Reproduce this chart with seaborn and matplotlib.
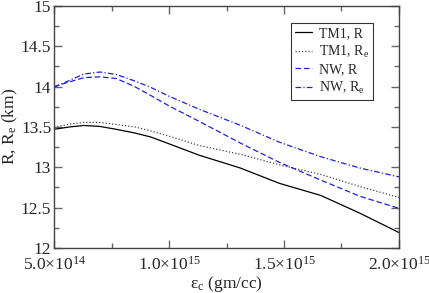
import numpy as np
import pandas as pd
import matplotlib
matplotlib.use("Agg")
import matplotlib.pyplot as plt
import seaborn as sns
from matplotlib.ticker import MultipleLocator, FixedLocator, FuncFormatter

# central energy density (gm/cc)
eps_c = [5.0e14, 5.7e14, 6.3e14, 7.0e14, 7.7e14, 8.5e14, 9.2e14, 1.0e15,
         1.13e15, 1.31e15, 1.48e15, 1.66e15, 1.83e15, 2.0e15]

tm1_r = [13.47, 13.50, 13.517, 13.505, 13.47, 13.425, 13.375, 13.29,
         13.15, 12.99, 12.80, 12.65, 12.43, 12.19]
tm1_re = [13.495, 13.535, 13.555, 13.555, 13.53, 13.50, 13.45, 13.385,
          13.27, 13.16, 13.03, 12.91, 12.76, 12.625]
nw_r = [14.00, 14.06, 14.11, 14.12, 14.10, 14.00, 13.89, 13.76,
        13.57, 13.30, 13.06, 12.84, 12.64, 12.49]
nw_re = [13.99, 14.08, 14.155, 14.18, 14.15, 14.07, 13.99, 13.88,
         13.72, 13.52, 13.31, 13.13, 12.99, 12.88]

series = {
    "TM1, R": tm1_r,
    r"TM1, R$_\mathrm{e}$": tm1_re,
    "NW, R": nw_r,
    r"NW, R$_\mathrm{e}$": nw_re,
}
names = list(series)

df = pd.concat(
    [pd.DataFrame({"eps": eps_c, "R": v, "curve": k}) for k, v in series.items()],
    ignore_index=True,
)

sns.set_style("ticks")
plt.rcParams["font.family"] = ["Liberation Serif", "DejaVu Serif"]
plt.rcParams["mathtext.fontset"] = "custom"
plt.rcParams["mathtext.rm"] = "Liberation Serif"
plt.rcParams["mathtext.it"] = "Liberation Serif:italic"

fig = plt.figure(figsize=(4.29, 2.93), dpi=100)
ax = fig.add_axes([0.126, 0.154, 0.804, 0.826])

palette = dict(zip(names, ["black", "#444444", "#2020e0", "#2020e0"]))
dashes = dict(zip(names, ["", (1, 1.6), (4.5, 2.2), (4.5, 1.8, 1, 1.8)]))

sns.lineplot(data=df, x="eps", y="R", hue="curve", style="curve",
             palette=palette, dashes=dashes, linewidth=0.9, ax=ax)

ax.set_xlim(5e14, 2e15)
ax.set_ylim(12, 15)
ax.xaxis.set_major_locator(FixedLocator([5e14, 1e15, 1.5e15, 2e15]))
ax.xaxis.set_minor_locator(FixedLocator([7.5e14, 1.25e15, 1.75e15]))
ax.set_xticklabels([r"5.0$\times$10$^{14}$", r"1.0$\times$10$^{15}$",
                    r"1.5$\times$10$^{15}$", r"2.0$\times$10$^{15}$"])
ax.yaxis.set_major_locator(MultipleLocator(0.5))
ax.yaxis.set_minor_locator(MultipleLocator(0.25))
ax.yaxis.set_major_formatter(FuncFormatter(lambda v, p: f"{v:g}"))
ax.tick_params(which="both", direction="in", top=True, right=True,
               labelsize=12.5, color="#666666", pad=2)
ax.tick_params(axis="x", which="major", pad=6)
ax.tick_params(which="major", length=6, width=1)
ax.tick_params(which="minor", length=3.5, width=1)
for s in ax.spines.values():
    s.set_color("#444444")
    s.set_linewidth(1)

ax.set_xlabel("ε$_\\mathrm{c}$ (gm/cc)", fontsize=12.5, labelpad=0)
ax.set_ylabel(r"R, R$_\mathrm{e}$ (km)", fontsize=12.5)
ax.yaxis.set_label_coords(-0.1, 0.5)

leg = ax.legend(loc="upper right", bbox_to_anchor=(0.925, 0.93), fontsize=10,
                frameon=True, fancybox=False, edgecolor="black",
                handlelength=1.2, borderpad=0.3, labelspacing=0.25,
                handletextpad=0.5, borderaxespad=0)
leg.get_frame().set_linewidth(0.8)

fig.savefig("out.png", dpi=100)
